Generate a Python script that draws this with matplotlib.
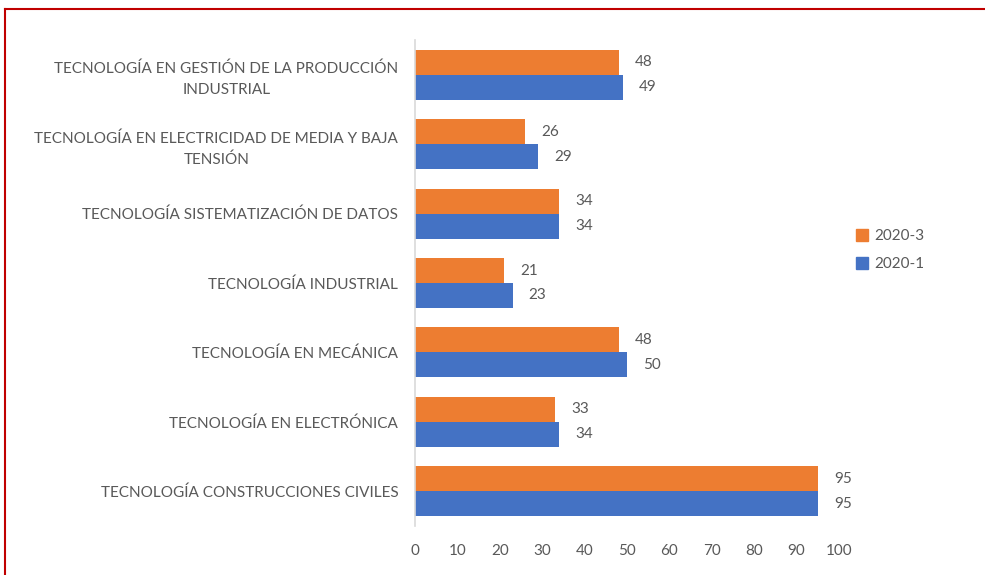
import matplotlib
matplotlib.use("Agg")
import matplotlib.pyplot as plt
import numpy as np
from matplotlib.lines import Line2D

categories = [
    "TECNOLOGÍA CONSTRUCCIONES CIVILES",
    "TECNOLOGÍA EN ELECTRÓNICA",
    "TECNOLOGÍA EN MECÁNICA",
    "TECNOLOGÍA INDUSTRIAL",
    "TECNOLOGÍA SISTEMATIZACIÓN DE DATOS",
    "TECNOLOGÍA EN ELECTRICIDAD DE MEDIA Y BAJA\nTENSIÓN",
    "TECNOLOGÍA EN GESTIÓN DE LA PRODUCCIÓN\nINDUSTRIAL",
]
s2020_1 = [95, 34, 50, 23, 34, 29, 49]
s2020_3 = [95, 33, 48, 21, 34, 26, 48]
xticks = [0, 10, 20, 30, 40, 50, 60, 70, 80, 90, 100]

plt.rcParams['font.family'] = ['Lato', 'DejaVu Sans']
gray = '#595959'
orange = '#ED7D31'
blue = '#4472C4'

fig = plt.figure(figsize=(9.85, 5.75), dpi=100)
ax = fig.add_axes([415/985, 1-526/575, (839-415)/985, (526-40)/575])

y = np.arange(len(categories))
h = 0.36
b1 = ax.barh(y - h/2, s2020_1, height=h, color=blue, label='2020-1')
b3 = ax.barh(y + h/2, s2020_3, height=h, color=orange, label='2020-3')

for bars, vals in ((b1, s2020_1), (b3, s2020_3)):
    for rect, v in zip(bars, vals):
        ax.annotate(str(v), (rect.get_width(), rect.get_y() + rect.get_height()/2),
                    xytext=(11.5, 0), textcoords='offset points', va='center', ha='left',
                    fontsize=11, color=gray)

ax.set_xlim(0, 100)
ax.set_ylim(-0.5, len(categories) - 0.5)
ax.set_xticks(xticks)
ax.set_xticklabels([str(t) for t in xticks])
ax.set_yticks(y)
ax.set_yticklabels(categories, multialignment='center', linespacing=1.6)
ax.tick_params(axis='both', length=0, colors=gray, labelsize=11)
ax.tick_params(axis='x', pad=13)
ax.tick_params(axis='y', pad=12)
for s in ['top', 'right', 'bottom']:
    ax.spines[s].set_visible(False)
ax.spines['left'].set_color('#D9D9D9')
ax.spines['left'].set_linewidth(1.2)

handles = [plt.Rectangle((0, 0), 1, 1, color=orange), plt.Rectangle((0, 0), 1, 1, color=blue)]
fig.legend(handles, ['2020-3', '2020-1'], loc='center left', bbox_to_anchor=(842/985, 1-250/575),
           frameon=False, fontsize=11, labelcolor=gray, handlelength=0.8, handleheight=0.8,
           handletextpad=0.4, labelspacing=0.9)

# red frame
fig.add_artist(Line2D([5/985, 1], [1-9/575, 1-9/575], color='#C00000', lw=1.5, transform=fig.transFigure))
fig.add_artist(Line2D([5/985, 5/985], [0, 1-9/575], color='#C00000', lw=1.5, transform=fig.transFigure))

fig.savefig('out.png', dpi=100)
